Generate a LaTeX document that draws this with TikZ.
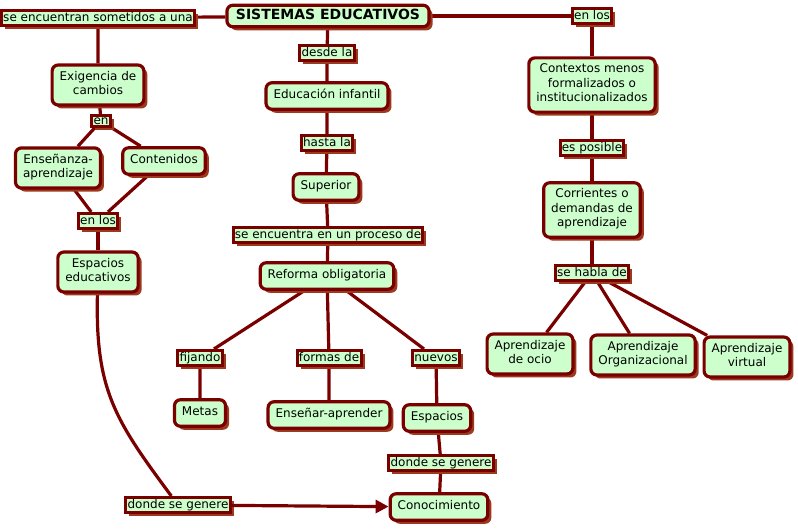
\documentclass[tikz,border=0pt]{standalone}
\usepackage{fontspec}
\setmainfont{DejaVu Sans}
\usetikzlibrary{shadows,backgrounds,arrows.meta}
\definecolor{conceptfill}{HTML}{CCFFCC}
\definecolor{cmapred}{HTML}{7A0000}
\definecolor{cmapshadow}{HTML}{9B3A1E}
\tikzset{
  cmshadow/.style={drop shadow={shadow xshift=3.5pt, shadow yshift=-3.5pt, fill=cmapshadow, opacity=1}},
  concept/.style={draw=cmapred, line width=3.2pt, fill=conceptfill, rounded corners=6pt,
    align=center, inner xsep=7.5pt, inner ysep=6pt, font=\fontsize{12}{14.5}\selectfont,
    execute at begin node=\strut, execute at end node=\strut, cmshadow},
  linkbox/.style={draw=cmapred, line width=3pt, fill=conceptfill, inner xsep=1.8pt,
    inner ysep=1.8pt, text height=9pt, text depth=2.5pt, font=\fontsize{12}{14.5}\selectfont, cmshadow},
  conn/.style={draw=cmapred, line width=3.2pt}
}
\begin{document}
\begin{tikzpicture}[x=1pt,y=-1pt]
  \useasboundingbox (0,0) rectangle (798,528);
  % main concept
  \node (tit) at (328,16) [concept, font=\bfseries\fontsize{14}{16}\selectfont, inner xsep=9pt,
    inner ysep=4pt, execute at begin node={}, execute at end node={}, text height=10.5pt, text depth=3pt]
    {SISTEMAS EDUCATIVOS};

  % left branch
  \node (someti) at (98,18) [linkbox] {se encuentran sometidos a una};
  \node (exig) at (98,85) [concept] {Exigencia de\\cambios};
  \node (en) at (101,121) [linkbox, text height=8pt, text depth=1pt, inner ysep=0.8pt] {en};
  \node (ensap) at (58,168) [concept] {Enseñanza-\\aprendizaje};
  \node (conten) at (164,161) [concept] {Contenidos};
  \node (enlosa) at (98,221) [linkbox] {en los};
  \node (espedu) at (98,272) [concept] {Espacios\\educativos};
  \node (dondea) at (178,505) [linkbox] {donde se genere};

  % middle branch
  \node (desde) at (327,53) [linkbox] {desde la};
  \node (infant) at (327,96) [concept] {Educación infantil};
  \node (hasta) at (327,143) [linkbox] {hasta la};
  \node (super) at (326,187) [concept] {Superior};
  \node (proceso) at (328,235) [linkbox] {se encuentra en un proceso de};
  \node (reforma) at (327,276) [concept] {Reforma obligatoria};
  \node (fijando) at (200,358) [linkbox] {fijando};
  \node (formas) at (329,358) [linkbox] {formas de};
  \node (nuevos) at (436,358) [linkbox] {nuevos};
  \node (metas) at (200,413) [concept] {Metas};
  \node (ensapr) at (329,415) [concept] {Enseñar-aprender};
  \node (espac) at (437,418) [concept] {Espacios};
  \node (dondeb) at (441,463) [linkbox] {donde se genere};
  \node (conoc) at (439,507) [concept] {Conocimiento};

  % right branch
  \node (enlosb) at (592,16) [linkbox] {en los};
  \node (contex) at (592,85) [concept] {Contextos menos\\formalizados o\\institucionalizados};
  \node (posible) at (592,148) [linkbox] {es posible};
  \node (corrie) at (592,210) [concept] {Corrientes o\\demandas de\\aprendizaje};
  \node (habla) at (592,273) [linkbox] {se habla de};
  \node (ocio) at (530,354) [concept] {Aprendizaje\\de ocio};
  \node (organ) at (643,355) [concept] {Aprendizaje\\Organizacional};
  \node (virtual) at (747,357) [concept] {Aprendizaje\\virtual};

  \begin{pgfonlayer}{background}
    \draw[conn] (tit) -- (someti) -- (exig) -- (en);
    \draw[conn] (en) -- (ensap) -- (enlosa) -- (conten) -- (en);
    \draw[conn] (enlosa) -- (espedu);
    \draw[conn] (espedu) .. controls (95,390) and (115,420) .. (dondea);
    \draw[conn] (tit) -- (desde) -- (infant) -- (hasta) -- (super) -- (proceso) -- (reforma);
    \draw[conn] (reforma) -- (fijando) -- (metas);
    \draw[conn] (reforma) -- (formas) -- (ensapr);
    \draw[conn] (reforma) -- (nuevos) -- (espac) -- (dondeb) -- (conoc);
    \draw[conn] (tit) -- (enlosb) -- (contex) -- (posible) -- (corrie) -- (habla);
    \draw[conn] (habla) -- (ocio);
    \draw[conn] (habla) -- (organ);
    \draw[conn] (habla) -- (virtual);
  \end{pgfonlayer}
  \draw[conn, -{Triangle[length=13pt,width=13pt]}] (dondea) -- (conoc);
\end{tikzpicture}
\end{document}
